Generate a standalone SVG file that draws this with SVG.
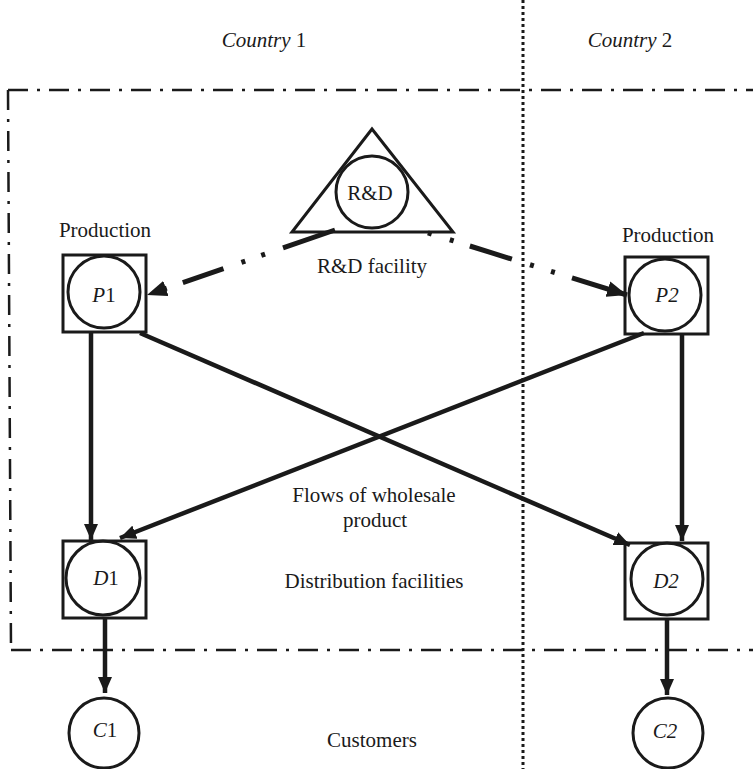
<svg xmlns="http://www.w3.org/2000/svg" width="753" height="769" viewBox="0 0 753 769">
<defs>
<style>
text{font-size:21px;fill:#1a1a1a;text-anchor:middle}
.it{font-style:italic}
.up{font-style:normal}
.box{fill:none;stroke:#1a1a1a;stroke-width:3}
.node{fill:none;stroke:#1a1a1a;stroke-width:3}
.flow{fill:none;stroke:#1a1a1a;stroke-width:4.5}
.rd{fill:none;stroke:#1a1a1a;stroke-width:5}
.border{fill:none;stroke:#1a1a1a;stroke-width:2.5;stroke-dasharray:20 9 3 9}
.dots{fill:none;stroke:#1a1a1a;stroke-width:3;stroke-dasharray:3 3}
</style>
<marker id="ah" viewBox="0 0 16 14" refX="16" refY="7" markerWidth="16" markerHeight="14" markerUnits="userSpaceOnUse" orient="auto">
<path d="M0 0 L16 7 L0 14 Z" fill="#1a1a1a"/>
</marker>
<marker id="ah2" viewBox="0 0 20 16" refX="20" refY="8" markerWidth="20" markerHeight="16" markerUnits="userSpaceOnUse" orient="auto">
<path d="M0 0 L20 8 L0 16 Z" fill="#1a1a1a"/>
</marker>
</defs>
<g font-family="Liberation Serif, serif">
<g id="boundaries">
<line class="dots" x1="523" y1="0" x2="523" y2="769"/>
<line class="border" x1="8" y1="90" x2="753" y2="90"/>
<line class="border" x1="8" y1="90" x2="11" y2="650"/>
<line class="border" x1="11" y1="650" x2="753" y2="650"/>
</g>
<g id="labels">
<text x="264" y="47"><tspan class="it">Country</tspan> 1</text>
<text x="630" y="47"><tspan class="it">Country</tspan> 2</text>
<text x="105" y="237">Production</text>
<text x="668" y="242">Production</text>
<text x="372" y="273">R&amp;D facility</text>
<text x="374" y="502">Flows of wholesale</text>
<text x="375" y="527">product</text>
<text x="374" y="588">Distribution facilities</text>
<text x="372" y="747">Customers</text>
</g>
<g id="connectors">
<line class="rd" stroke-dasharray="55 19 4 17 4 19 43 17 4 100" x1="335" y1="230" x2="147" y2="295" marker-end="url(#ah2)"/>
<line class="rd" stroke-dasharray="0 3 4 19 4 17 44 19 4 18 4 18 100" x1="425" y1="232" x2="627" y2="295" marker-end="url(#ah2)"/>
<line class="flow" x1="91" y1="332" x2="91" y2="540" marker-end="url(#ah)"/>
<line class="flow" x1="682" y1="334" x2="682" y2="541" marker-end="url(#ah)"/>
<line class="flow" x1="140" y1="333" x2="630" y2="545" marker-end="url(#ah)"/>
<line class="flow" x1="644" y1="333" x2="120" y2="538" marker-end="url(#ah)"/>
<line class="flow" x1="105" y1="618" x2="105" y2="693" marker-end="url(#ah)"/>
<line class="flow" x1="667" y1="619" x2="667" y2="695" marker-end="url(#ah)"/>
</g>
<g id="rd">
<path class="node" d="M372 129 L292 232 L453 232 Z"/>
<circle class="node" cx="372" cy="192" r="36"/>
<text x="370" y="200">R&amp;D</text>
</g>
<g id="p1">
<rect class="box" x="63" y="255" width="83" height="77"/>
<circle class="node" cx="104" cy="292" r="36"/>
<text class="it" x="104" y="302">P<tspan class="up">1</tspan></text>
</g>
<g id="p2">
<rect class="box" x="625" y="257" width="83" height="77"/>
<circle class="node" cx="665" cy="295" r="36"/>
<text class="it" x="667" y="302">P2</text>
</g>
<g id="d1">
<rect class="box" x="63" y="541" width="83" height="77"/>
<circle class="node" cx="103" cy="578" r="37"/>
<text class="it" x="106" y="585">D<tspan class="up">1</tspan></text>
</g>
<g id="d2">
<rect class="box" x="625" y="543" width="83" height="76"/>
<circle class="node" cx="667" cy="579" r="36"/>
<text class="it" x="666" y="588">D2</text>
</g>
<g id="c1">
<circle class="node" cx="104" cy="733" r="35"/>
<text class="it" x="105" y="737">C<tspan class="up">1</tspan></text>
</g>
<g id="c2">
<circle class="node" cx="668" cy="733" r="35"/>
<text class="it" x="665" y="738">C2</text>
</g>
</g>
</svg>
